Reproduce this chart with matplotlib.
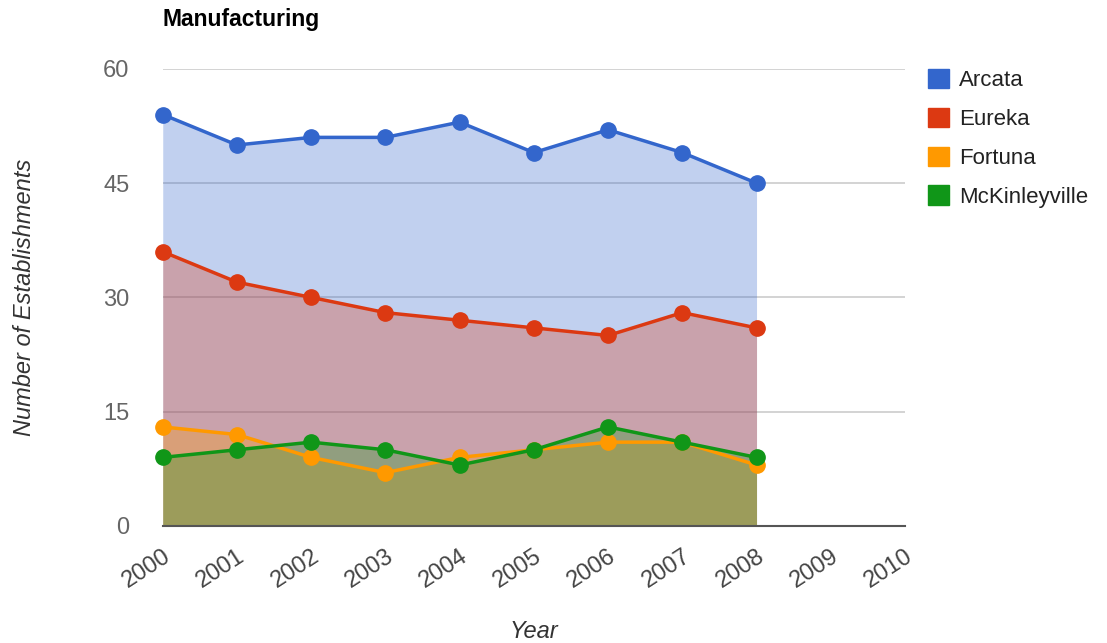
import matplotlib
matplotlib.use("Agg")
import matplotlib.pyplot as plt
from matplotlib.patches import Patch

plt.rcParams['font.family'] = ['Liberation Sans', 'DejaVu Sans']

years = [2000, 2001, 2002, 2003, 2004, 2005, 2006, 2007, 2008]
arcata = [54, 50, 51, 51, 53, 49, 52, 49, 45]
eureka = [36, 32, 30, 28, 27, 26, 25, 28, 26]
fortuna = [13, 12, 9, 7, 9, 10, 11, 11, 8]
mckinleyville = [9, 10, 11, 10, 8, 10, 13, 11, 9]
series_names = ["Arcata", "Eureka", "Fortuna", "McKinleyville"]
colors = ["#3366CC", "#DC3912", "#FF9900", "#109618"]
xticks = list(range(2000, 2011))
yticks = [0, 15, 30, 45, 60]

fig = plt.figure(figsize=(11.07, 6.43), dpi=100)
ax = fig.add_axes([0.147, 0.182, 0.6705, 0.711])

for vals, c in zip([arcata, eureka, fortuna, mckinleyville], colors):
    ax.fill_between(years, 0, vals, color=c, alpha=0.3, linewidth=0, zorder=2)
for vals, c in zip([arcata, eureka, fortuna, mckinleyville], colors):
    ax.plot(years, vals, color=c, linewidth=2.5, marker="o", markersize=11,
            zorder=3, clip_on=False)

ax.set_xlim(2000, 2010)
ax.set_ylim(0, 60)
ax.set_yticks(yticks)
ax.set_xticks(xticks)
ax.set_xticklabels([str(x) for x in xticks], rotation=33, ha="right",
                   rotation_mode="anchor", fontsize=17, color="#444444")
ax.set_yticklabels([str(y) for y in yticks], fontsize=17, color="#666666")
ax.tick_params(axis="both", length=0)
ax.tick_params(axis="y", pad=24)
ax.tick_params(axis="x", pad=14)
for s in ["top", "right", "left"]:
    ax.spines[s].set_visible(False)
ax.spines["bottom"].set_color("#555555")
ax.spines["bottom"].set_linewidth(1.5)
ax.spines["bottom"].set_zorder(4)
ax.grid(axis="y", color="#cccccc", linewidth=1.2, zorder=1)
ax.set_axisbelow(True)

ax.set_xlabel("Year", fontsize=17, style="italic", color="#333333", labelpad=20)
ax.set_ylabel("Number of Establishments", fontsize=17, style="italic",
              color="#333333", labelpad=48)
fig.text(0.147, 0.97, "Manufacturing", fontsize=16.5, fontweight="bold",
         color="black", ha="left", va="center")

handles = [Patch(facecolor=c, edgecolor=c) for c in colors]
fig.legend(handles, series_names, loc="upper left", bbox_to_anchor=(0.838, 0.893),
           frameon=False, fontsize=16, handlelength=0.95, handleheight=0.95,
           handletextpad=0.45, labelspacing=0.75, labelcolor="#222222",
           borderpad=0, borderaxespad=0)

fig.savefig("out.png", dpi=100)
